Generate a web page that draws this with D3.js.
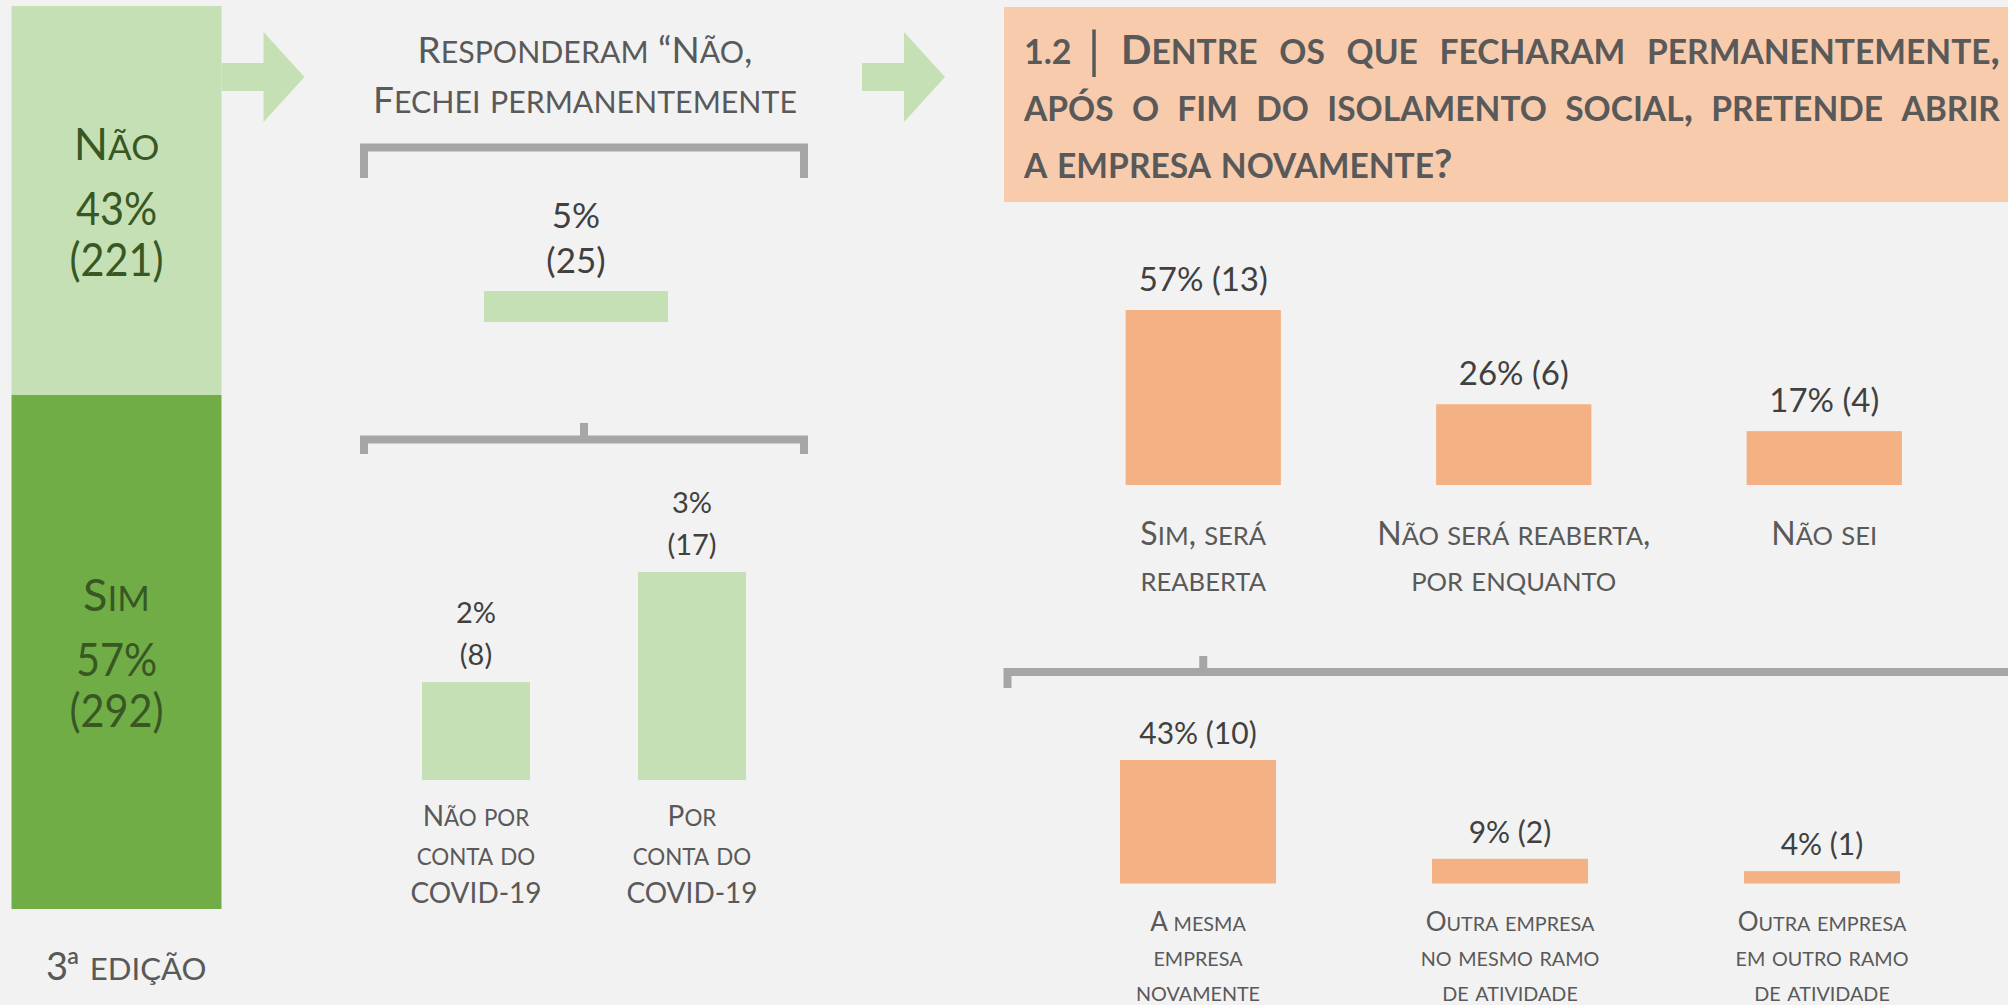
<!DOCTYPE html>
<html>
<head>
<meta charset="utf-8">
<script src="https://cdn.jsdelivr.net/npm/d3@7"></script>
<style>
body{margin:0;background:#f2f2f2;}
svg{display:block;font-family:Lato,"Open Sans",sans-serif;}
</style>
</head>
<body>
<script>
// data
var totalCats = ["Não", "Sim"];
var totalPct = [43, 57];
var totalN = [221, 292];

var closedPct = [5];
var closedN = [25];

var reasonCats = [["Não por", "conta do", "COVID-19"], ["Por", "conta do", "COVID-19"]];
var reasonPct = [2, 3];
var reasonN = [8, 17];

var reopenCats = [["Sim, será", "reaberta"], ["Não será reaberta,", "por enquanto"], ["Não sei"]];
var reopenPct = [57, 26, 17];
var reopenN = [13, 6, 4];

var whichCats = [["A mesma", "empresa", "novamente"], ["Outra empresa", "no mesmo ramo", "de atividade"], ["Outra empresa", "em outro ramo", "de atividade"]];
var whichPct = [43, 9, 4];
var whichN = [10, 2, 1];

var width = 2008, height = 1005;
var lightGreen = "#c5e0b4", darkGreen = "#70ad47", greenText = "#385723";
var orange = "#f4b183", peach = "#f8cbad", grey = "#a6a6a6";
var labelCol = "#595959", valueCol = "#404040";

var svg = d3.select("body").append("svg")
    .attr("width", width)
    .attr("height", height);

svg.append("rect").attr("width", width).attr("height", height).attr("fill", "#f2f2f2");

// small caps: lowercase letters drawn as reduced capitals
function smallCaps(sel, str, size, ratio){
    var runs = [], cur = null;
    for (const ch of str){
        var low = ch !== ch.toUpperCase();
        if (!cur || cur.low !== low){ cur = {low: low, t: ""}; runs.push(cur); }
        cur.t += ch;
    }
    runs.forEach(function(r){
        sel.append("tspan")
           .attr("font-size", r.low ? size * ratio : size)
           .text(r.low ? r.t.toUpperCase() : r.t);
    });
    return sel;
}

function lines(g, arr, x, y0, step, size, ratio, color){
    arr.forEach(function(s, i){
        var t = g.append("text")
            .attr("x", x).attr("y", y0 + i * step)
            .attr("text-anchor", "middle")
            .attr("fill", color);
        smallCaps(t, s, size, ratio);
    });
}

// ---- left stacked bar
var total = d3.sum(totalN);
var yTot = d3.scaleLinear().domain([0, total]).range([6, 909]);
var stack = [];
var acc = 0;
totalN.forEach(function(n, i){ stack.push({cat: totalCats[i], pct: totalPct[i], n: n, y0: acc, y1: acc + n}); acc += n; });

var left = svg.append("g");
left.selectAll("rect").data(stack).enter().append("rect")
    .attr("x", 11.5).attr("width", 210)
    .attr("y", function(d){ return yTot(d.y0); })
    .attr("height", function(d){ return yTot(d.y1) - yTot(d.y0); })
    .attr("fill", function(d, i){ return i == 0 ? lightGreen : darkGreen; });

stack.forEach(function(d){
    var cy = (yTot(d.y0) + yTot(d.y1)) / 2;
    var t = left.append("text").attr("x", 116.5).attr("y", cy - 41)
        .attr("text-anchor", "middle").attr("fill", greenText);
    smallCaps(t, d.cat, 45, 0.78);
    left.append("text").attr("transform", "translate(116.5," + (cy + 24) + ") scale(0.9,1)")
        .attr("text-anchor", "middle").attr("fill", greenText)
        .attr("font-size", 46).text(d.pct + "%");
    left.append("text").attr("transform", "translate(116.5," + (cy + 75) + ") scale(0.9,1)")
        .attr("text-anchor", "middle").attr("fill", greenText)
        .attr("font-size", 46).text("(" + d.n + ")");
});

var ed = svg.append("text").attr("x", 46).attr("y", 980).attr("fill", labelCol);
ed.append("tspan").attr("font-size", 38).text("3");
ed.append("tspan").attr("font-size", 38).attr("dx", -2).text("ª");
smallCaps(ed, " edição", 38, 0.82);

// arrows
function arrow(x){
    svg.append("path")
       .attr("d", "M" + x + ",63H" + (x + 42) + "V32L" + (x + 83) + ",77L" + (x + 42) + ",122V91H" + x + "Z")
       .attr("fill", lightGreen);
}
arrow(221.5);
arrow(862);

// ---- middle panel
var mid = svg.append("g");
lines(mid, ["Responderam “Não,", "Fechei permanentemente"], 585, 63, 50, 37, 0.82, labelCol);

mid.append("path")
   .attr("d", "M364,178V147.5H804V178")
   .attr("fill", "none").attr("stroke", grey).attr("stroke-width", 8);
mid.append("path")
   .attr("d", "M364,454V439.5H804V454M584,439.5V423")
   .attr("fill", "none").attr("stroke", grey).attr("stroke-width", 8);

var xClosed = d3.scaleBand().domain(["fechei"]).range([484, 668]);
var yClosed = d3.scaleLinear().domain([0, 25]).range([322, 291]);
mid.selectAll(".closed").data(closedN).enter().append("rect")
   .attr("class", "closed")
   .attr("x", xClosed("fechei")).attr("width", xClosed.bandwidth())
   .attr("y", function(d){ return yClosed(d); })
   .attr("height", function(d){ return yClosed(0) - yClosed(d); })
   .attr("fill", lightGreen);
closedN.forEach(function(n, i){
    var cx = xClosed("fechei") + xClosed.bandwidth() / 2;
    mid.append("text").attr("x", cx).attr("y", yClosed(n) - 63).attr("text-anchor", "middle")
       .attr("fill", valueCol).attr("font-size", 35).text(closedPct[i] + "%");
    mid.append("text").attr("x", cx).attr("y", yClosed(n) - 18).attr("text-anchor", "middle")
       .attr("fill", valueCol).attr("font-size", 35).text("(" + n + ")");
});

var xReason = d3.scaleBand().domain(d3.range(reasonN.length)).range([314, 854]).paddingInner(0.5).paddingOuter(0.5);
var yReason = d3.scaleLinear().domain([0, 17]).range([780, 572]);
mid.selectAll(".reason").data(reasonN).enter().append("rect")
   .attr("class", "reason")
   .attr("x", function(d, i){ return xReason(i); })
   .attr("width", xReason.bandwidth())
   .attr("y", function(d){ return yReason(d); })
   .attr("height", function(d){ return yReason(0) - yReason(d); })
   .attr("fill", lightGreen);
reasonN.forEach(function(n, i){
    var cx = xReason(i) + xReason.bandwidth() / 2;
    mid.append("text").attr("x", cx).attr("y", yReason(n) - 59).attr("text-anchor", "middle")
       .attr("fill", valueCol).attr("font-size", 29).text(reasonPct[i] + "%");
    mid.append("text").attr("x", cx).attr("y", yReason(n) - 17).attr("text-anchor", "middle")
       .attr("fill", valueCol).attr("font-size", 29).text("(" + n + ")");
    lines(mid, reasonCats[i], cx, 826, 38.5, 28, 0.8, labelCol);
});

// ---- right panel
var right = svg.append("g");
right.append("rect").attr("x", 1004).attr("y", 7).attr("width", 1010).attr("height", 195).attr("fill", peach);

right.append("text").attr("x", 1024).attr("y", 64).attr("fill", labelCol)
     .attr("font-weight", 700).attr("font-size", 34).text("1.2");
right.append("text").attr("x", 1094).attr("y", 68).attr("text-anchor", "middle").attr("fill", labelCol)
     .attr("font-weight", 400).attr("font-size", 50).text("|");

var titleLines = [
    {x: 1121, s: "Dentre os que fecharam permanentemente,", y: 64, justify: true},
    {x: 1024, s: "após o fim do isolamento social, pretende abrir", y: 121, justify: true},
    {x: 1024, s: "a empresa novamente?", y: 178, justify: false}
];
titleLines.forEach(function(l){
    var t = right.append("text").attr("x", l.x).attr("y", l.y)
        .attr("fill", labelCol).attr("font-weight", 700);
    smallCaps(t, l.s, 40, 0.84);
    if (l.justify){
        var len = t.node().getComputedTextLength();
        var n = (t.text().match(/ /g) || []).length;
        t.style("word-spacing", ((2000 - l.x - len) / n) + "px");
    }
});

var xReopen = d3.scaleBand().domain(d3.range(reopenN.length)).range([1048, 1979.5]).paddingInner(0.5).paddingOuter(0.25);
var yReopen = d3.scaleLinear().domain([0, 13]).range([485, 310]);
right.selectAll(".reopen").data(reopenN).enter().append("rect")
   .attr("class", "reopen")
   .attr("x", function(d, i){ return xReopen(i); })
   .attr("width", xReopen.bandwidth())
   .attr("y", function(d){ return yReopen(d); })
   .attr("height", function(d){ return yReopen(0) - yReopen(d); })
   .attr("fill", orange);
reopenN.forEach(function(n, i){
    var cx = xReopen(i) + xReopen.bandwidth() / 2;
    right.append("text").attr("x", cx).attr("y", yReopen(n) - 19).attr("text-anchor", "middle")
       .attr("fill", valueCol).attr("font-size", 33).text(reopenPct[i] + "% (" + n + ")");
    lines(right, reopenCats[i], cx, 545, 46, 32, 0.8, labelCol);
});

var tickX = xReopen(0) + xReopen.bandwidth() / 2;
right.append("path")
   .attr("d", "M1007.5,688V672H2020M" + tickX + ",672V656")
   .attr("fill", "none").attr("stroke", grey).attr("stroke-width", 8);

var xWhich = d3.scaleBand().domain(d3.range(whichN.length)).range([1042, 1978]).paddingInner(0.5).paddingOuter(0.25);
var yWhich = d3.scaleLinear().domain([0, 10]).range([883.5, 760]);
right.selectAll(".which").data(whichN).enter().append("rect")
   .attr("class", "which")
   .attr("x", function(d, i){ return xWhich(i); })
   .attr("width", xWhich.bandwidth())
   .attr("y", function(d){ return yWhich(d); })
   .attr("height", function(d){ return yWhich(0) - yWhich(d); })
   .attr("fill", orange);
whichN.forEach(function(n, i){
    var cx = xWhich(i) + xWhich.bandwidth() / 2;
    right.append("text").attr("x", cx).attr("y", yWhich(n) - 16).attr("text-anchor", "middle")
       .attr("fill", valueCol).attr("font-size", 30).text(whichPct[i] + "% (" + n + ")");
    lines(right, whichCats[i], cx, 931, 35, 26, 0.76, labelCol);
});
</script>
</body>
</html>
